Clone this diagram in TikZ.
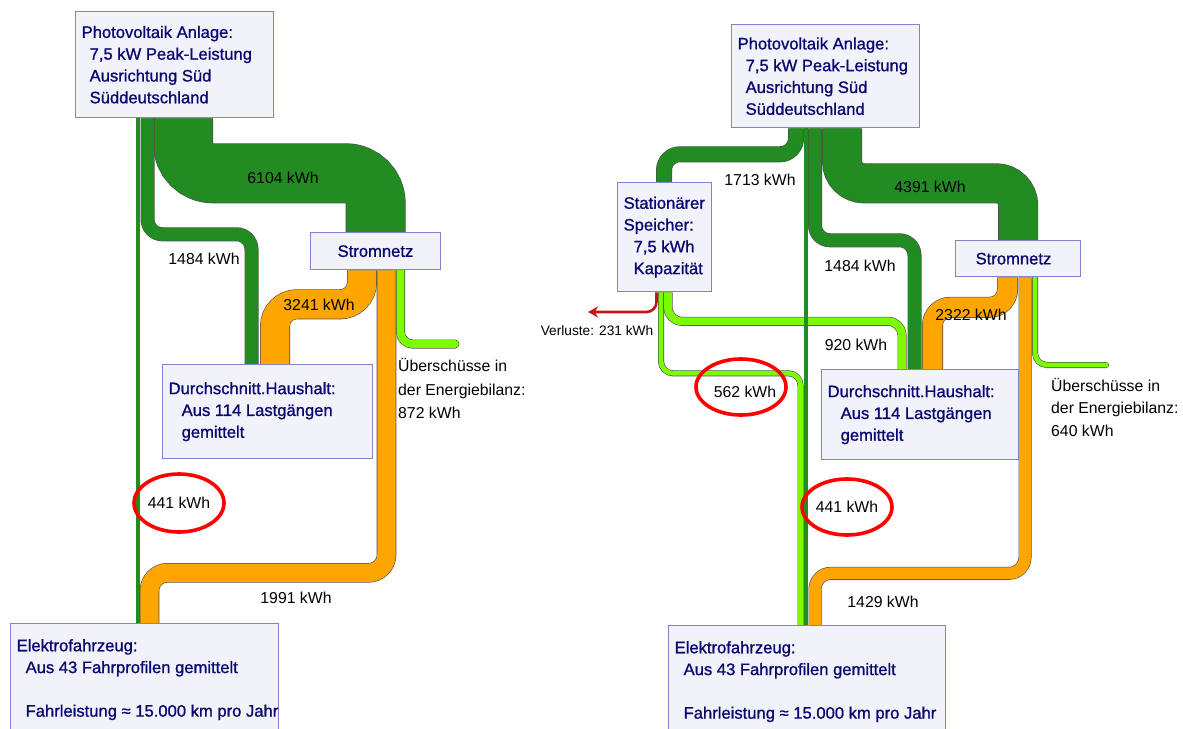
\documentclass[tikz,border=0pt]{standalone}
\usepackage{fontspec}
\setmainfont{Liberation Sans}
\newfontfamily\boxfont[FakeBold=1]{Liberation Sans}
\usetikzlibrary{arrows.meta,backgrounds}
\definecolor{pvgreen}{RGB}{34,139,34}
\definecolor{gridorange}{RGB}{255,165,0}
\definecolor{surplusgreen}{RGB}{124,252,0}
\definecolor{boxfill}{RGB}{242,242,250}
\definecolor{boxline}{RGB}{130,130,205}
\definecolor{boxtext}{RGB}{8,8,112}
\definecolor{lossred}{RGB}{196,20,20}
\newcommand{\indentby}[1]{\hspace*{#1pt}}
\begin{document}
\begin{tikzpicture}[x=1pt,y=-1pt,
  blk/.style={draw=boxline,fill=boxfill,line width=1.3pt,anchor=north west,align=flush left,
    inner xsep=6pt,inner ysep=0pt,text=boxtext,font=\boxfont\fontsize{16.6}{21.8}\selectfont},
  flow/.style={draw=black!70,line width=0.6pt,double distance=#1},
  kwh/.style={inner sep=0pt,font=\fontsize{15.8}{23.5}\selectfont},
  ring/.style={draw=red,line width=3.6pt}]
  \useasboundingbox (0,0) rectangle (1183,728);
  % left: without storage
  \node[blk,text width=186pt,minimum height=106pt] (pvA) at (75,11)
    {Photovoltaik Anlage:\\\indentby{8}7,5 kW Peak-Leistung\\\indentby{8}Ausrichtung Süd\\\indentby{8}Süddeutschland};
  \node[blk,text width=118pt,minimum height=37pt] (netA) at (310,232) {\indentby{21}Stromnetz};
  \node[blk,text width=198pt,minimum height=94pt] (hhA) at (162,364)
    {Durchschnitt.Haushalt:\\\indentby{13}Aus 114 Lastgängen\\\indentby{13}gemittelt};
  \node[blk,text width=256pt,minimum height=112pt] (evA) at (10,623)
    {Elektrofahrzeug:\\\indentby{9}Aus 43 Fahrprofilen gemittelt\\[21.8pt]\indentby{9}\mbox{Fahrleistung ≈ 15.000 km pro Jahr}};
  \coordinate (surA) at (455,344);
  % right: with stationary storage
  \node[blk,text width=176pt,minimum height=103pt] (pvB) at (731,24)
    {Photovoltaik Anlage:\\\indentby{8}7,5 kW Peak-Leistung\\\indentby{8}Ausrichtung Süd\\\indentby{8}Süddeutschland};
  \node[blk,text width=82pt,minimum height=109pt] (stB) at (617,182)
    {Stationärer\\Speicher:\\\indentby{10}7,5 kWh\\\indentby{10}Kapazität};
  \node[blk,text width=113pt,minimum height=36pt] (netB) at (955,240) {\indentby{14}Stromnetz};
  \node[blk,text width=185pt,minimum height=90pt] (hhB) at (821,369)
    {Durchschnitt.Haushalt:\\\indentby{13}Aus 114 Lastgängen\\\indentby{13}gemittelt};
  \node[blk,text width=265pt,minimum height=112pt] (evB) at (668,625)
    {Elektrofahrzeug:\\\indentby{9}Aus 43 Fahrprofilen gemittelt\\[21.8pt]\indentby{9}\mbox{Fahrleistung ≈ 15.000 km pro Jahr}};
  \coordinate (surB) at (1106,365);
  \coordinate (lossEnd) at (588,312);
  \begin{scope}[on background layer]
    \fill[white] (0,0) rectangle (1183,728);
    \draw[flow=58.8pt,double=pvgreen,rounded corners=30pt] ([xshift=108pt]pvA.south west) -- ++(0,55) -| (netA.north);
    \draw[flow=12.8pt,double=pvgreen,rounded corners=15pt] ([xshift=72.5pt]pvA.south west) -- ++(0,116) -| ([xshift=89.5pt]hhA.north west);
    \draw[flow=3.4pt,double=pvgreen] ([xshift=63pt]pvA.south west) -- ([xshift=128pt]evA.north west);
    \draw[flow=28.8pt,double=gridorange,rounded corners=22pt] ([xshift=52pt]netA.south west) -- ++(0,34) -| ([xshift=113pt]hhA.north west);
    \draw[flow=18.4pt,double=gridorange,rounded corners=18pt] ([xshift=76.5pt]netA.south west) -- ++(0,302.5) -| ([xshift=139.5pt]evA.north west);
    \draw[flow=7.8pt,double=surplusgreen,rounded corners=12pt,line cap=round] ([xshift=90.5pt]netA.south west) |- (surA);
    % right
    \draw[flow=14.8pt,double=pvgreen,rounded corners=16pt] ([xshift=65pt]pvB.south west) -- ++(0,26) -| ([xshift=47pt]stB.north west);
    \draw[flow=12.8pt,double=pvgreen,rounded corners=15pt] ([xshift=84pt]pvB.south west) -- ++(0,112) -| ([xshift=93.5pt]hhB.north west);
    \draw[flow=38.8pt,double=pvgreen,rounded corners=22pt] ([xshift=111pt]pvB.south west) -- ++(0,55) -| (netB.north);
    \draw[lossred,line width=2.6pt,rounded corners=10pt,-{Stealth[length=10pt,width=11pt]}] ([xshift=39.5pt]stB.south west) |- (lossEnd);
    \draw[flow=4.8pt,double=surplusgreen,rounded corners=12pt] ([xshift=44pt]stB.south west) -- ++(0,81) -| ([xshift=132.5pt]evB.north west);
    \draw[flow=7.8pt,double=surplusgreen,rounded corners=14pt] ([xshift=51pt]stB.south west) -- ++(0,29) -| ([xshift=81pt]hhB.north west);
    \draw[flow=3.4pt,double=pvgreen] ([xshift=75pt]pvB.south west) -- ([xshift=138pt]evB.north west);
    \draw[flow=19.8pt,double=gridorange,rounded corners=18pt] ([xshift=52.5pt]netB.south west) -- ++(0,30) -| ([xshift=111.5pt]hhB.north west);
    \draw[flow=11.8pt,double=gridorange,rounded corners=16pt] ([xshift=70pt]netB.south west) -- ++(0,296) -| ([xshift=147pt]evB.north west);
    \draw[flow=4.8pt,double=surplusgreen,rounded corners=12pt,line cap=round] ([xshift=80pt]netB.south west) |- (surB);
  \end{scope}
  % flow values
  \node[kwh] (v6104) at (283,178) {6104 kWh};
  \node[kwh] (v1484a) at (204,259) {1484 kWh};
  \node[kwh] (v3241) at (319,305) {3241 kWh};
  \node[kwh] (v441a) at (179,503) {441 kWh};
  \node[kwh] (v1991) at (296,598) {1991 kWh};
  \node[kwh,align=flush left,anchor=west] (over872) at (398,388.5) {Überschüsse in\\der Energiebilanz:\\872 kWh};
  \node[kwh] (v1713) at (760,180) {1713 kWh};
  \node[kwh] (v4391) at (930,187) {4391 kWh};
  \node[kwh] (v1484b) at (860,266) {1484 kWh};
  \node[kwh,font=\fontsize{13.7}{16}\selectfont] (loss231) at (597,331) {Verluste: 231 kWh};
  \node[kwh] (v920) at (856,345) {920 kWh};
  \node[kwh] (v562) at (745,392) {562 kWh};
  \node[kwh] (v441b) at (847,507) {441 kWh};
  \node[kwh] (v2322) at (971,315) {2322 kWh};
  \node[kwh] (v1429) at (883,602) {1429 kWh};
  \node[kwh,align=flush left,anchor=west,font=\fontsize{15.8}{22.5}\selectfont] (over640) at (1051,407) {Überschüsse in\\der Energiebilanz:\\640 kWh};
  \draw[ring] (v441a) ellipse (45pt and 29pt);
  \draw[ring] ([shift={(-4,-5)}]v562) ellipse (45pt and 28pt);
  \draw[ring] (v441b) ellipse (45pt and 28pt);
\end{tikzpicture}
\end{document}
